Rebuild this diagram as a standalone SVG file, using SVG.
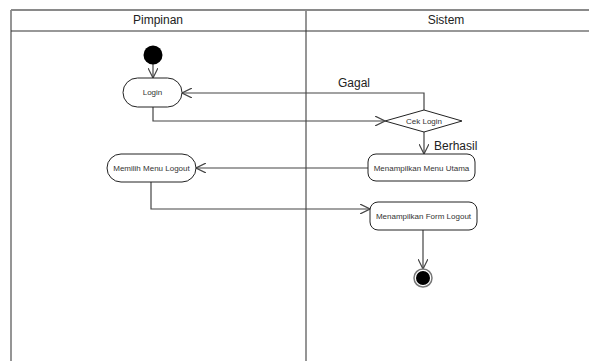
<svg xmlns="http://www.w3.org/2000/svg" width="589" height="361" viewBox="0 0 589 361">
  <style>
    .lane { stroke: #8a8a8a; stroke-width: 1.8; fill: none; }
    .hdr { stroke: #333; stroke-width: 1.2; fill: none; }
    .title { font-family: "Liberation Sans", Arial, sans-serif; font-size: 12px; fill: #222; text-anchor: middle; }
    .act { fill: #fff; stroke: #222; stroke-width: 1; }
    .lbl { font-family: "Liberation Sans", Arial, sans-serif; font-size: 8px; fill: #333; text-anchor: middle; }
    .guard { font-family: "Liberation Sans", Arial, sans-serif; font-size: 12px; fill: #222; }
    .edge { stroke: #444; stroke-width: 1.2; fill: none; marker-end: url(#open); }
  </style>
  <defs>
    <marker id="open" viewBox="0 0 10 10" refX="10" refY="5" markerWidth="10" markerHeight="10" markerUnits="userSpaceOnUse" orient="auto">
      <path d="M0,0 L10,5 L0,10" fill="none" stroke="#444" stroke-width="1.2"/>
    </marker>
  </defs>
  <rect width="589" height="361" fill="#fff"/>

  <!-- swimlanes -->
  <g id="lanes">
    <line class="lane" x1="11" y1="10" x2="589" y2="10"/>
    <line class="lane" x1="11" y1="10" x2="11" y2="361"/>
    <line class="lane" x1="306" y1="10" x2="306" y2="361"/>
    <line class="hdr" x1="11" y1="31" x2="589" y2="31"/>
    <text class="title" x="158" y="24">Pimpinan</text>
    <text class="title" x="446" y="24">Sistem</text>
  </g>

  <!-- connectors -->
  <g id="connectors">
    <path class="edge" d="M153,64 V78"/>
    <path class="edge" d="M424,110 V93 H182"/>
    <path class="edge" d="M153,107 V121 H385"/>
    <path class="edge" d="M424,132 V154"/>
    <path class="edge" d="M368,168 H196"/>
    <path class="edge" d="M151,182 V209 H370"/>
    <path class="edge" d="M423,230 V269"/>
    <text class="guard" x="338" y="87">Gagal</text>
    <text class="guard" x="434" y="150">Berhasil</text>
  </g>

  <g id="start">
    <circle cx="153" cy="55" r="9.5" fill="#000"/>
  </g>

  <g id="login">
    <rect class="act" x="123" y="78" width="59" height="29" rx="14.5"/>
    <text class="lbl" x="152.5" y="95">Login</text>
  </g>

  <g id="cek-login">
    <polygon class="act" points="424,110 462,121 424,132 385,121"/>
    <text class="lbl" x="424" y="124">Cek Login</text>
  </g>

  <g id="menu-utama">
    <rect class="act" x="368" y="154" width="107" height="27" rx="8"/>
    <text class="lbl" x="421.5" y="170.5">Menampilkan Menu Utama</text>
  </g>

  <g id="memilih-logout">
    <rect class="act" x="107" y="154" width="89" height="28" rx="14"/>
    <text class="lbl" x="151.5" y="171">Memilih Menu Logout</text>
  </g>

  <g id="form-logout">
    <rect class="act" x="370" y="202" width="107" height="28" rx="8"/>
    <text class="lbl" x="423.5" y="218.5">Menampilkan Form Logout</text>
  </g>

  <g id="end">
    <circle cx="423" cy="278" r="9" fill="#fff" stroke="#777" stroke-width="1.5"/>
    <circle cx="423" cy="278" r="7" fill="#000"/>
  </g>
</svg>
